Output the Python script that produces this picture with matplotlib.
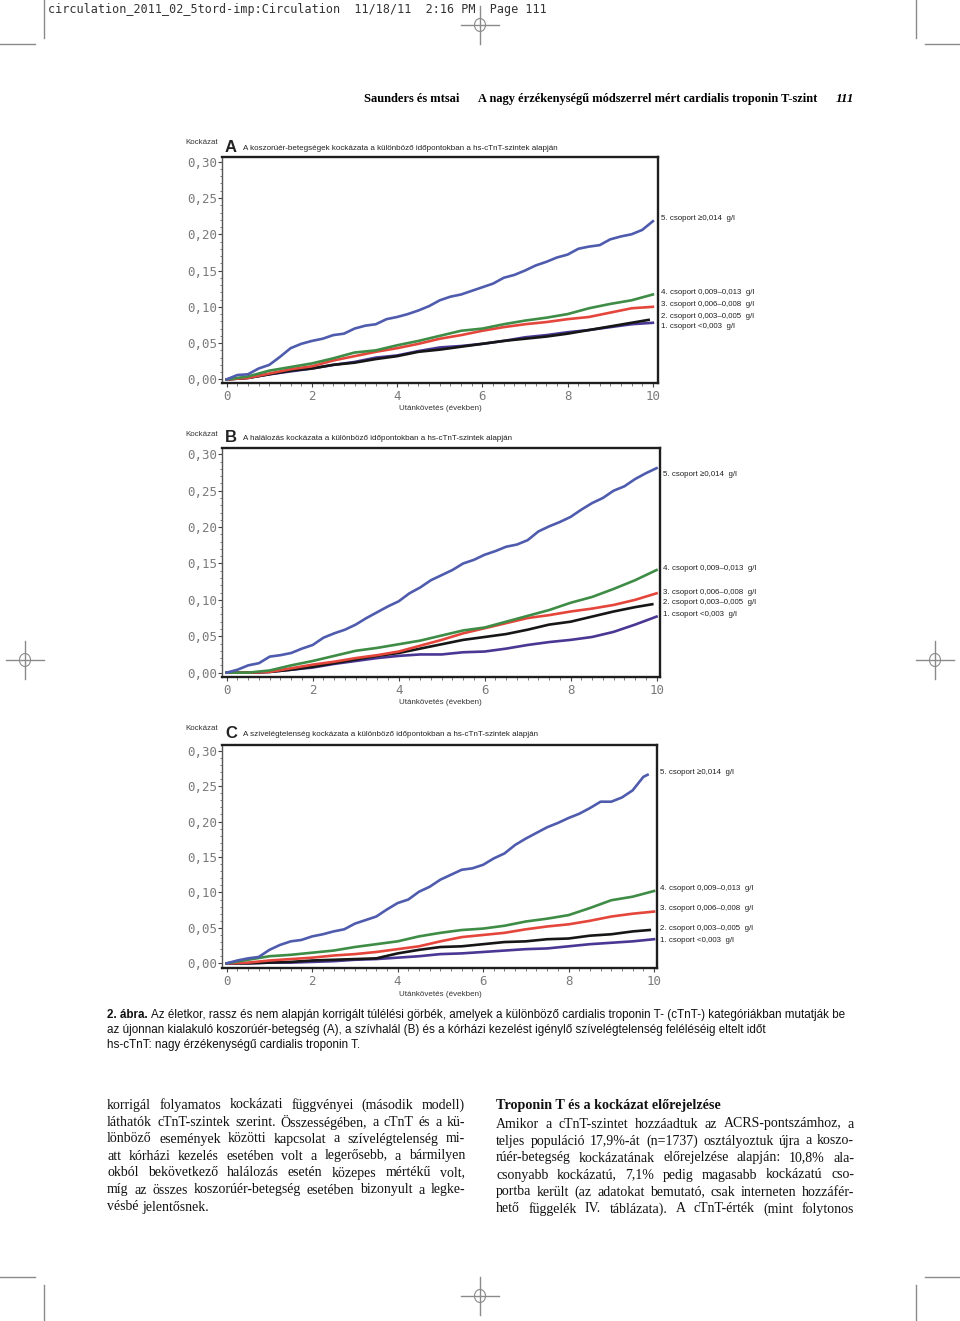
import matplotlib
matplotlib.use('Agg')
import matplotlib.pyplot as plt
import numpy as np
from matplotlib import font_manager
from matplotlib.lines import Line2D
from matplotlib.patches import Ellipse
from matplotlib.ticker import MultipleLocator

W, H = 960, 1321

# time grids (years)
t_quarter = list(np.arange(0, 10.01, 0.25))
t_half = list(np.arange(0, 10.01, 0.5))
t_half_short = t_half[:-1] + [9.9]

# Panel A: koszorúér-betegség
a_g5 = [0, 0.006, 0.007, 0.015, 0.020, 0.031, 0.043, 0.049, 0.053, 0.056, 0.061,
        0.063, 0.070, 0.074, 0.076, 0.083, 0.086, 0.090, 0.095, 0.101, 0.109,
        0.114, 0.117, 0.122, 0.127, 0.132, 0.140, 0.144, 0.150, 0.157, 0.162,
        0.168, 0.172, 0.180, 0.183, 0.185, 0.193, 0.197, 0.200, 0.206, 0.218]
a_g4 = [0, 0.004, 0.012, 0.017, 0.022, 0.029, 0.037, 0.040, 0.047, 0.053, 0.060,
        0.067, 0.070, 0.076, 0.081, 0.085, 0.090, 0.098, 0.104, 0.109, 0.117]
a_g3 = [0, 0.002, 0.008, 0.014, 0.018, 0.026, 0.032, 0.038, 0.043, 0.049, 0.056,
        0.061, 0.067, 0.072, 0.076, 0.079, 0.083, 0.086, 0.092, 0.098, 0.100]
a_g2 = [0, 0.002, 0.007, 0.012, 0.015, 0.020, 0.023, 0.028, 0.032, 0.038, 0.041,
        0.045, 0.049, 0.053, 0.056, 0.059, 0.063, 0.068, 0.073, 0.078, 0.082]
a_g1 = [0, 0.002, 0.007, 0.011, 0.015, 0.020, 0.024, 0.030, 0.033, 0.039, 0.044,
        0.046, 0.049, 0.053, 0.058, 0.061, 0.065, 0.068, 0.072, 0.076, 0.078]

# Panel B: halálozás
b_g5 = [0, 0.004, 0.010, 0.013, 0.022, 0.024, 0.027, 0.033, 0.038, 0.048, 0.054,
        0.059, 0.066, 0.075, 0.083, 0.091, 0.098, 0.109, 0.117, 0.127, 0.134,
        0.141, 0.150, 0.155, 0.162, 0.167, 0.173, 0.176, 0.182, 0.194, 0.201,
        0.207, 0.214, 0.224, 0.233, 0.240, 0.250, 0.256, 0.266, 0.274, 0.281]
b_g4 = [0, 0.000, 0.003, 0.010, 0.016, 0.023, 0.030, 0.034, 0.039, 0.044, 0.051,
        0.058, 0.062, 0.070, 0.078, 0.086, 0.096, 0.104, 0.115, 0.127, 0.141]
b_g3 = [0, 0.000, 0.001, 0.006, 0.011, 0.015, 0.020, 0.024, 0.029, 0.037, 0.045,
        0.054, 0.061, 0.068, 0.075, 0.079, 0.084, 0.088, 0.093, 0.100, 0.109]
b_g2 = [0, 0.000, 0.001, 0.004, 0.008, 0.013, 0.018, 0.023, 0.027, 0.033, 0.039,
        0.045, 0.049, 0.053, 0.059, 0.066, 0.070, 0.077, 0.084, 0.090, 0.094]
b_g1 = [0, 0.000, 0.001, 0.004, 0.007, 0.012, 0.016, 0.020, 0.023, 0.025, 0.025,
        0.028, 0.029, 0.033, 0.038, 0.042, 0.045, 0.049, 0.056, 0.066, 0.077]

# Panel C: szívelégtelenség
c_g5 = [0, 0.004, 0.007, 0.009, 0.019, 0.026, 0.031, 0.033, 0.038, 0.041, 0.045,
        0.048, 0.056, 0.061, 0.066, 0.076, 0.085, 0.090, 0.101, 0.108, 0.118,
        0.125, 0.132, 0.134, 0.139, 0.148, 0.155, 0.167, 0.176, 0.184, 0.192,
        0.198, 0.205, 0.211, 0.219, 0.228, 0.228, 0.234, 0.244, 0.263, 0.266]
c_g4 = [0, 0.005, 0.010, 0.012, 0.015, 0.018, 0.023, 0.027, 0.031, 0.038, 0.043,
        0.047, 0.049, 0.053, 0.059, 0.063, 0.068, 0.078, 0.089, 0.094, 0.102]
c_g3 = [0, 0.001, 0.004, 0.006, 0.008, 0.011, 0.013, 0.016, 0.020, 0.024, 0.031,
        0.037, 0.040, 0.043, 0.048, 0.052, 0.055, 0.060, 0.066, 0.070, 0.073]
c_g2 = [0, 0.000, 0.001, 0.002, 0.004, 0.005, 0.006, 0.007, 0.014, 0.019, 0.023,
        0.024, 0.027, 0.030, 0.031, 0.034, 0.035, 0.039, 0.041, 0.045, 0.047]
c_g1 = [0, 0.000, 0.001, 0.001, 0.002, 0.003, 0.005, 0.006, 0.008, 0.010, 0.013,
        0.014, 0.016, 0.018, 0.020, 0.021, 0.024, 0.027, 0.029, 0.031, 0.034]
t_c5 = t_quarter[:-1] + [9.85]

group_labels = ['5. csoport \u22650,014  g/l', '4. csoport 0,009\u20130,013  g/l',
                '3. csoport 0,006\u20130,008  g/l', '2. csoport 0,003\u20130,005  g/l',
                '1. csoport <0,003  g/l']
panel_titles = ['A koszorúér-betegségek kockázata a különböző időpontokban a hs-cTnT-szintek alapján',
                'A halálozás kockázata a különböző időpontokban a hs-cTnT-szintek alapján',
                'A szívelégtelenség kockázata a különböző időpontokban a hs-cTnT-szintek alapján']
panel_letters = ['A', 'B', 'C']
y_ticks = [0, 0.05, 0.10, 0.15, 0.20, 0.25, 0.30]
y_ticklabels = ['0,00', '0,05', '0,10', '0,15', '0,20', '0,25', '0,30']
x_ticks = [0, 2, 4, 6, 8, 10]

caption_lines = [
    'Az életkor, rassz és nem alapján korrigált túlélési görbék, amelyek a különböző cardialis troponin T- (cTnT-) kategóriákban mutatják be',
    'az újonnan kialakuló koszorúér-betegség (A), a szívhalál (B) és a kórházi kezelést igénylő szívelégtelenség feléléséig eltelt időt',
    'hs-cTnT: nagy érzékenységű cardialis troponin T.']
left_col = [
    'korrigál folyamatos kockázati függvényei (második modell)',
    'láthatók cTnT-szintek szerint. Összességében, a cTnT és a kü-',
    'lönböző események közötti kapcsolat a szívelégtelenség mi-',
    'att kórházi kezelés esetében volt a legerősebb, a bármilyen',
    'okból bekövetkező halálozás esetén közepes mértékű volt,',
    'míg az összes koszorúér-betegség esetében bizonyult a legke-',
    'vésbé jelentősnek.']
right_head = 'Troponin T és a kockázat előrejelzése'
right_col = [
    'Amikor a cTnT-szintet hozzáadtuk az ACRS-pontszámhoz, a',
    'teljes populáció 17,9%-át (n=1737) osztályoztuk újra a koszo-',
    'rúér-betegség kockázatának előrejelzése alapján: 10,8% ala-',
    'csonyabb kockázatú, 7,1% pedig magasabb kockázatú cso-',
    'portba került (az adatokat bemutató, csak interneten hozzáfér-',
    'hető függelék IV. táblázata). A cTnT-érték (mint folytonos']

colors = {5: '#4f5cae', 4: '#3e8c45', 3: '#e5463b', 2: '#161616', 1: '#4a3794'}

installed = {f.name for f in font_manager.fontManager.ttflist}
sans_narrow = 'Liberation Sans Narrow' if 'Liberation Sans Narrow' in installed else 'Liberation Sans'
serif = 'Liberation Serif'
sans = 'Liberation Sans'
mono = 'DejaVu Sans Mono'

fig = plt.figure(figsize=(W / 100, H / 100), dpi=100)
renderer = fig.canvas.get_renderer()


def fx(x):
    return x / W


def fy(y):
    return 1 - y / H


def put(x, y, s, **kw):
    kw.setdefault('va', 'center')
    return fig.text(fx(x), fy(y), s, **kw)


def width_of(s, **kw):
    t = fig.text(0.5, 0.5, s, **kw)
    w = t.get_window_extent(renderer).width
    t.remove()
    return w


def fit(x0, x1, y, s, size, **kw):
    # shrink the font until the text fits between x0 and x1
    while width_of(s, fontsize=size, **kw) > x1 - x0 and size > 5:
        size -= 0.1
    return put(x0, y, s, fontsize=size, **kw)


def justify(x0, x1, y, line, last=False, **kw):
    words = line.split(' ')
    widths = [width_of(w, **kw) for w in words]
    sp = width_of('a a', **kw) - width_of('aa', **kw)
    if last or len(words) == 1:
        gap = sp
    else:
        gap = (x1 - x0 - sum(widths)) / (len(words) - 1)
    x = x0
    for w, wd in zip(words, widths):
        put(x, y, w, **kw)
        x += wd + gap


# page furniture: crop / registration marks
mark_col = '#8a8a8a'


def reg_mark(cx, cy, arm=19):
    fig.add_artist(Line2D([fx(cx - arm), fx(cx + arm)], [fy(cy), fy(cy)], color=mark_col, lw=1))
    fig.add_artist(Line2D([fx(cx), fx(cx)], [fy(cy - arm), fy(cy + arm)], color=mark_col, lw=1))
    fig.add_artist(Ellipse((fx(cx), fy(cy)), 11 / W, 13 / H, fill=False, ec=mark_col, lw=0.8))


reg_mark(480, 25)
reg_mark(480, 1296)
reg_mark(25, 660)
reg_mark(935, 660)
for xx in (44, 916):
    fig.add_artist(Line2D([fx(xx), fx(xx)], [fy(0), fy(38)], color=mark_col, lw=1))
    fig.add_artist(Line2D([fx(xx), fx(xx)], [fy(1285), fy(1321)], color=mark_col, lw=1))
for x0, x1 in ((0, 35), (925, 960)):
    fig.add_artist(Line2D([fx(x0), fx(x1)], [fy(44), fy(44)], color=mark_col, lw=1))
    fig.add_artist(Line2D([fx(x0), fx(x1)], [fy(1277), fy(1277)], color=mark_col, lw=1))

put(48, 10, 'circulation_2011_02_5tord-imp:Circulation  11/18/11  2:16 PM  Page 111',
    family=mono, fontsize=8.5, color='#333333')

# running head
fit(364, 460, 99, 'Saunders és mtsai', 10, family=serif, weight='bold')
fit(478, 818, 99, 'A nagy érzékenységű módszerrel mért cardialis troponin T-szint', 10,
    family=serif, weight='bold')
put(836, 99, '111', family=serif, fontsize=9.5, style='italic', weight='bold')

# panels
panels = [
    dict(box=(222, 658, 157, 383), xlim=(-0.11, 10.12), ylim=(-0.005, 0.3065),
         top=143, xlab=409, lab_x=661, lab_y=[218, 293, 304, 317, 327],
         series=[(t_half, a_g1, 1), (t_half_short, a_g2, 2), (t_half, a_g3, 3),
                 (t_half, a_g4, 4), (t_quarter, a_g5, 5)]),
    dict(box=(222, 660, 448, 677), xlim=(-0.11, 10.08), ylim=(-0.006, 0.3087),
         top=434, xlab=703, lab_x=663, lab_y=[474, 568, 593, 603, 614],
         series=[(t_half, b_g1, 1), (t_half_short, b_g2, 2), (t_half, b_g3, 3),
                 (t_half, b_g4, 4), (t_quarter, b_g5, 5)]),
    dict(box=(222, 657, 745, 968), xlim=(-0.11, 10.07), ylim=(-0.0066, 0.308),
         top=729, xlab=994, lab_x=660, lab_y=[773, 889, 909, 929, 940],
         series=[(t_half, c_g1, 1), (t_half_short, c_g2, 2), (t_half, c_g3, 3),
                 (t_half, c_g4, 4), (t_c5, c_g5, 5)]),
]

for i, p in enumerate(panels):
    l, r, t, b = p['box']
    ax = fig.add_axes([fx(l), fy(b), (r - l) / W, (b - t) / H])
    for tt, vals, g in p['series']:
        ax.plot(tt, vals, color=colors[g], lw=1.9)
    ax.set_xlim(*p['xlim'])
    ax.set_ylim(*p['ylim'])
    ax.set_xticks(x_ticks)
    ax.set_xticklabels([str(v) for v in x_ticks])
    ax.set_yticks(y_ticks)
    ax.set_yticklabels(y_ticklabels)
    ax.xaxis.set_minor_locator(MultipleLocator(0.25))
    ax.yaxis.set_minor_locator(MultipleLocator(0.01))
    ax.tick_params(which='major', length=3, width=0.8, color='#444444',
                   labelsize=9, labelcolor='#7a7a7a')
    ax.tick_params(axis='x', which='major', pad=2)
    ax.tick_params(axis='y', which='major', pad=0.5)
    ax.tick_params(which='minor', length=1.8, width=0.6, color='#666666')
    for lab in ax.get_xticklabels() + ax.get_yticklabels():
        lab.set_family(mono)
    for side in ('top', 'right', 'bottom'):
        ax.spines[side].set_linewidth(1.7)
        ax.spines[side].set_color('#1e1e1e')
    ax.spines['left'].set_linewidth(1.0)
    ax.spines['left'].set_color('#555555')

    put(185, p['top'], 'Kockázat', family=sans, fontsize=5.7, color='#333333')
    put(225, p['top'] + 4, panel_letters[i], family=sans, fontsize=12, weight='bold', color='#222222')
    put(243, p['top'] + 5, panel_titles[i], family=sans, fontsize=5.75, color='#222222')
    put(440, p['xlab'], 'Utánkövetés (években)', family=sans, fontsize=5.75, ha='center', color='#333333')
    for lab, yy in zip(group_labels, p['lab_y']):
        put(p['lab_x'], yy, lab, family=['Liberation Sans', 'DejaVu Sans'], fontsize=5.7, color='#222222')

# caption
bold = put(107, 1015, '2. ábra.', family=sans_narrow, fontsize=8.4, weight='bold', color='#111111')
bw = bold.get_window_extent(renderer).width
put(107 + bw + 3, 1015, caption_lines[0], family=sans_narrow, fontsize=8.4, color='#111111')
put(107, 1030, caption_lines[1], family=sans_narrow, fontsize=8.4, color='#111111')
put(107, 1045, caption_lines[2], family=sans_narrow, fontsize=8.4, color='#111111')

# body text, two justified columns
for k, line in enumerate(left_col):
    justify(107, 465, 1105 + 17 * k, line, last=(k == len(left_col) - 1),
            family=serif, fontsize=10, color='#111111')
put(496, 1105, right_head, family=serif, fontsize=10.2, weight='bold', color='#111111')
for k, line in enumerate(right_col):
    justify(496, 854, 1124 + 17 * k, line, family=serif, fontsize=10, color='#111111')

fig.savefig('out.png', dpi=100)
